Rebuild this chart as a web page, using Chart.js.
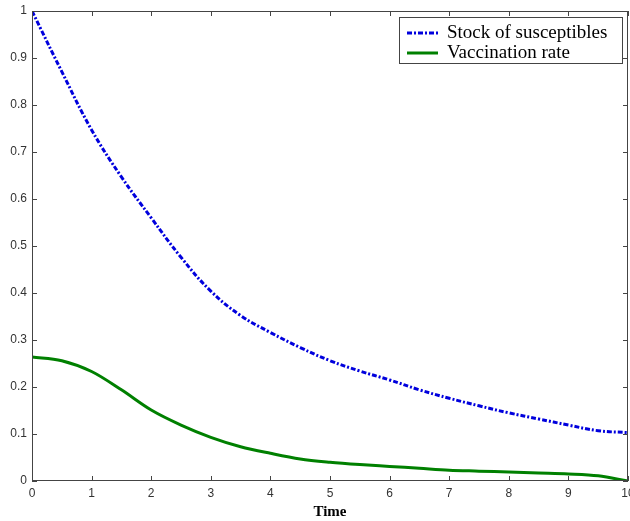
<!DOCTYPE html>
<html>
<head>
<meta charset="utf-8">
<script src="https://cdn.jsdelivr.net/npm/chart.js@4.4.1/dist/chart.umd.min.js"></script>
<style>
  html, body { margin: 0; padding: 0; background: #ffffff; }
  #wrap { width: 630px; height: 521px; position: relative; }
</style>
</head>
<body>
<div id="wrap"><canvas id="c" width="630" height="521"></canvas></div>
<script>
// ---- data ----
const timePoints = [0, 0.5, 1, 1.5, 2, 2.5, 3, 3.5, 4, 4.5, 5, 5.5, 6, 6.5, 7, 7.5, 8, 8.5, 9, 9.5, 10];
const susceptibles = [1.0, 0.871, 0.747, 0.647, 0.560, 0.476, 0.404, 0.352, 0.316, 0.284, 0.256, 0.234, 0.215, 0.194, 0.176, 0.160, 0.145, 0.132, 0.119, 0.107, 0.103];
const vaccination = [0.264, 0.256, 0.233, 0.194, 0.151, 0.119, 0.093, 0.073, 0.059, 0.047, 0.040, 0.035, 0.031, 0.027, 0.023, 0.021, 0.019, 0.017, 0.015, 0.011, 0.0];
const seriesNames = ['Stock of susceptibles', 'Vaccination rate'];
const xTicks = [0, 1, 2, 3, 4, 5, 6, 7, 8, 9, 10];
const yTicks = [0, 0.1, 0.2, 0.3, 0.4, 0.5, 0.6, 0.7, 0.8, 0.9, 1];

const toPoints = (xs, ys) => xs.map((x, i) => ({ x: x, y: ys[i] }));

const frameColor = '#444444';

const boxPlugin = {
  id: 'matlabBox',
  afterDraw(chart) {
    const ctx = chart.ctx;
    const { left, right, top, bottom } = chart.chartArea;
    const xs = chart.scales.x, ys = chart.scales.y;
    ctx.save();
    ctx.strokeStyle = frameColor;
    ctx.lineWidth = 1;
    ctx.beginPath();
    ctx.rect(left + 0.5, top + 0.5, right - left - 1, bottom - top - 1);
    ctx.stroke();
    const tl = 5;
    ctx.beginPath();
    xTicks.forEach(v => {
      const px = Math.round(xs.getPixelForValue(v)) + 0.5;
      ctx.moveTo(px, bottom); ctx.lineTo(px, bottom - tl);
      ctx.moveTo(px, top); ctx.lineTo(px, top + tl);
    });
    yTicks.forEach(v => {
      const py = Math.round(ys.getPixelForValue(v)) + 0.5;
      ctx.moveTo(left, py); ctx.lineTo(left + tl, py);
      ctx.moveTo(right, py); ctx.lineTo(right - tl, py);
    });
    ctx.stroke();

    // legend box
    const lx = 399, ly = 17, lw = 223, lh = 46;
    ctx.fillStyle = '#ffffff';
    ctx.fillRect(lx, ly, lw, lh);
    ctx.strokeStyle = frameColor;
    ctx.strokeRect(lx + 0.5, ly + 0.5, lw, lh);
    ctx.font = '19px "Liberation Serif", "Times New Roman", serif';
    ctx.textBaseline = 'middle';
    ctx.textAlign = 'left';
    const rows = [33, 53];
    chart.data.datasets.forEach((ds, i) => {
      const yy = rows[i];
      ctx.strokeStyle = ds.borderColor;
      ctx.lineWidth = ds.borderWidth;
      ctx.setLineDash(ds.borderDash || []);
      ctx.beginPath();
      ctx.moveTo(407, yy); ctx.lineTo(438, yy);
      ctx.stroke();
      ctx.setLineDash([]);
      ctx.fillStyle = '#000000';
      ctx.fillText(ds.label, 447, yy);
    });
    ctx.restore();
  }
};

new Chart(document.getElementById('c'), {
  type: 'line',
  data: {
    datasets: [
      {
        label: seriesNames[0],
        data: toPoints(timePoints, susceptibles),
        borderColor: '#0000dd',
        borderWidth: 3,
        borderDash: [5, 2, 2, 2],
        pointRadius: 0,
        tension: 0.4,
        fill: false
      },
      {
        label: seriesNames[1],
        data: toPoints(timePoints, vaccination),
        borderColor: '#008000',
        borderWidth: 3,
        pointRadius: 0,
        cubicInterpolationMode: 'monotone',
        fill: false
      }
    ]
  },
  options: {
    responsive: false,
    animation: false,
    devicePixelRatio: 1,
    layout: { padding: { top: 11, right: 2, left: 0, bottom: 0 } },
    plugins: { legend: { display: false }, tooltip: { enabled: false } },
    scales: {
      x: {
        type: 'linear',
        min: 0, max: 10,
        grid: { display: false, drawTicks: false },
        border: { display: false },
        afterBuildTicks: s => { s.ticks = xTicks.map(v => ({ value: v })); },
        afterFit: s => { s.height = 40; s.paddingLeft = 0; s.paddingRight = 0; },
        ticks: {
          padding: 5,
          maxRotation: 0,
          autoSkip: false,
          color: '#333333',
          font: { family: '"Liberation Sans", Arial, sans-serif', size: 12 },
          callback: v => String(v)
        },
        title: {
          display: true,
          text: 'Time',
          color: '#000000',
          padding: { top: 0, bottom: 0 },
          font: { family: '"Liberation Serif", "Times New Roman", serif', size: 15, weight: 'bold' }
        }
      },
      y: {
        type: 'linear',
        min: 0, max: 1,
        grid: { display: false, drawTicks: false },
        border: { display: false },
        afterBuildTicks: s => { s.ticks = yTicks.map(v => ({ value: v })); },
        afterFit: s => { s.width = 32; s.paddingTop = 0; s.paddingBottom = 0; },
        ticks: {
          padding: 5,
          autoSkip: false,
          color: '#333333',
          font: { family: '"Liberation Sans", Arial, sans-serif', size: 12 },
          callback: v => String(+Number(v).toFixed(1))
        }
      }
    }
  },
  plugins: [boxPlugin]
});
</script>
</body>
</html>
